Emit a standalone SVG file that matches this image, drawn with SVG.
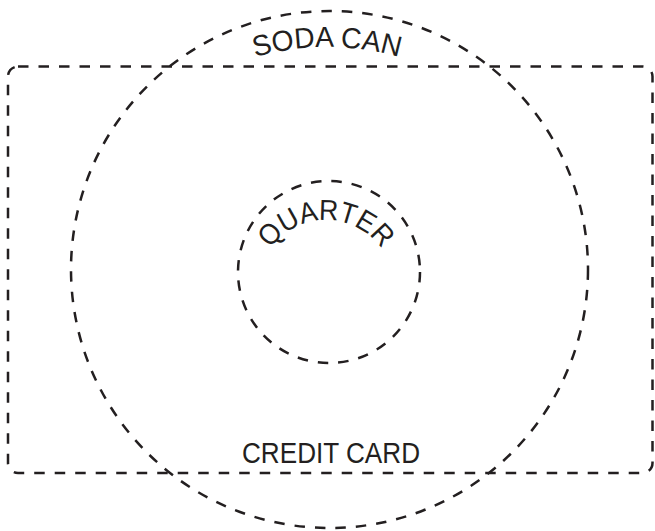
<svg xmlns="http://www.w3.org/2000/svg" width="655" height="531" viewBox="0 0 655 531">
  <style>
    .outline { fill: none; stroke: #231f20; stroke-width: 2.5; stroke-dasharray: 10.5 10; }
    .label { font-family: "Liberation Sans", Arial, sans-serif; font-size: 29px; fill: #231f20; }
  </style>
  <defs>
    <path id="sodaArc" d="M 67 307 A 260 260 0 0 1 587 307"/>
    <path id="quarterArc" d="M 258 288 A 68 68 0 0 1 394 288"/>
  </defs>
  <rect width="655" height="531" fill="#ffffff"/>
  <g id="credit-card">
    <rect class="outline" x="8" y="66.5" width="644.5" height="406.5" rx="10" ry="10"/>
    <text class="label" x="331" y="463" text-anchor="middle" textLength="178" lengthAdjust="spacingAndGlyphs">CREDIT CARD</text>
  </g>
  <g id="soda-can">
    <circle class="outline" cx="329.5" cy="269.5" r="258.5"/>
    <text class="label"><textPath href="#sodaArc" startOffset="50%" text-anchor="middle" textLength="146" lengthAdjust="spacingAndGlyphs">SODA CAN</textPath></text>
  </g>
  <g id="quarter">
    <circle class="outline" cx="329" cy="272" r="91"/>
    <text class="label"><textPath href="#quarterArc" startOffset="50%" text-anchor="middle" textLength="130" lengthAdjust="spacingAndGlyphs">QUARTER</textPath></text>
  </g>
  <g id="connectors"/>
</svg>
